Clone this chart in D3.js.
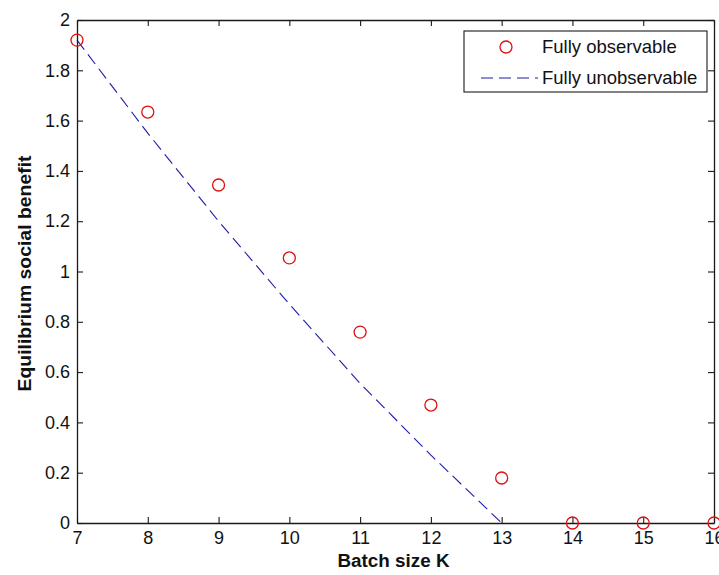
<!DOCTYPE html>
<html>
<head>
<meta charset="utf-8">
<script src="https://cdn.jsdelivr.net/npm/d3@7"></script>
<style>
  html, body { margin: 0; padding: 0; background: #ffffff; }
  svg { display: block; }
  text { font-family: "Liberation Sans", Arial, Helvetica, sans-serif; }
</style>
</head>
<body>
<svg id="chart" width="719" height="575"></svg>
<script>
// ---- data ----
const batchSizes = [7, 8, 9, 10, 11, 12, 13, 14, 15, 16];
const fullyObservable = [1.92, 1.634, 1.344, 1.054, 0.759, 0.469, 0.179, 0, 0, 0];
const unobservableK = [7, 8, 9, 10, 11, 12, 13];
const fullyUnobservable = [1.92, 1.55, 1.20, 0.87, 0.555, 0.27, 0];
const xTickValues = [7, 8, 9, 10, 11, 12, 13, 14, 15, 16];
const yTickValues = [0, 0.2, 0.4, 0.6, 0.8, 1, 1.2, 1.4, 1.6, 1.8, 2];
const yTickLabels = ["0", "0.2", "0.4", "0.6", "0.8", "1", "1.2", "1.4", "1.6", "1.8", "2"];
const seriesNames = ["Fully observable", "Fully unobservable"];
const xLabel = "Batch size K";
const yLabel = "Equilibrium social benefit";

// ---- layout ----
const W = 719, H = 575;
const margin = { top: 20, right: 5, bottom: 52, left: 77 };
const iw = W - margin.left - margin.right;
const ih = H - margin.top - margin.bottom;

const svg = d3.select("#chart");
svg.append("rect").attr("width", W).attr("height", H).attr("fill", "#ffffff");
const g = svg.append("g").attr("transform", `translate(${margin.left},${margin.top})`);

const x = d3.scaleLinear().domain([7, 16]).range([0, iw]);
const y = d3.scaleLinear().domain([0, 2]).range([ih, 0]);

const axisColor = "#1a1a1a";
const tickFont = 18;

// plot background
g.append("rect").attr("width", iw).attr("height", ih).attr("fill", "#ffffff");

// ---- series: dashed line ----
const lineData = unobservableK.map((k, i) => [k, fullyUnobservable[i]]);
const line = d3.line().x(d => x(d[0])).y(d => y(d[1]));
const lineColor = "#1c1ca8";
const markerColor = "#dd1111";
const dash = "12,6";

g.append("path")
  .datum(lineData)
  .attr("fill", "none")
  .attr("stroke", lineColor)
  .attr("stroke-width", 1.1)
  .attr("stroke-dasharray", dash)
  .attr("d", line);

// ---- axes ----
function styleAxis(sel) {
  sel.selectAll("path.domain").attr("stroke", axisColor).attr("stroke-width", 1.3);
  sel.selectAll(".tick line").attr("stroke", axisColor).attr("stroke-width", 1.1);
  sel.selectAll(".tick text").attr("fill", "#111").attr("font-size", tickFont)
    .attr("font-family", '"Liberation Sans", Arial, sans-serif');
}

const xAxis = d3.axisBottom(x).tickValues(xTickValues).tickFormat(d3.format("d"))
  .tickSizeInner(-6).tickSizeOuter(0).tickPadding(8);
g.append("g").attr("transform", `translate(0,${ih})`).call(xAxis).call(styleAxis);

const yAxis = d3.axisLeft(y).tickValues(yTickValues)
  .tickFormat((d, i) => yTickLabels[i])
  .tickSizeInner(-6).tickSizeOuter(0).tickPadding(7);
g.append("g").call(yAxis).call(styleAxis);

const xTop = d3.axisTop(x).tickValues(xTickValues).tickFormat("")
  .tickSizeInner(-6).tickSizeOuter(0);
g.append("g").call(xTop).call(styleAxis);

const yRight = d3.axisRight(y).tickValues(yTickValues).tickFormat("")
  .tickSizeInner(-6).tickSizeOuter(0);
g.append("g").attr("transform", `translate(${iw},0)`).call(yRight).call(styleAxis);

// ---- series: circle markers ----
g.selectAll("circle.obs")
  .data(batchSizes.map((k, i) => [k, fullyObservable[i]]))
  .join("circle")
  .attr("class", "obs")
  .attr("cx", d => x(d[0]))
  .attr("cy", d => y(d[1]))
  .attr("r", 6)
  .attr("fill", "none")
  .attr("stroke", markerColor)
  .attr("stroke-width", 1.3);

// ---- axis labels ----
svg.append("text")
  .attr("x", margin.left + iw / 2 - 2)
  .attr("y", 567)
  .attr("text-anchor", "middle")
  .attr("font-size", 18)
  .attr("font-weight", "bold")
  .attr("fill", "#111")
  .attr("textLength", 112)
  .attr("lengthAdjust", "spacingAndGlyphs")
  .text(xLabel);

svg.append("text")
  .attr("transform", `translate(${31},${margin.top + ih / 2 + 2}) rotate(-90)`)
  .attr("text-anchor", "middle")
  .attr("font-size", 18)
  .attr("font-weight", "bold")
  .attr("fill", "#111")
  .attr("textLength", 236)
  .attr("lengthAdjust", "spacingAndGlyphs")
  .text(yLabel);

// ---- legend ----
const legend = svg.append("g").attr("transform", "translate(464,31)");
legend.append("rect")
  .attr("width", 243).attr("height", 61)
  .attr("fill", "#ffffff").attr("stroke", axisColor).attr("stroke-width", 1.1);

const rows = [16, 47];
legend.append("circle")
  .attr("cx", 42).attr("cy", rows[0]).attr("r", 6)
  .attr("fill", "none").attr("stroke", markerColor).attr("stroke-width", 1.3);
legend.append("line")
  .attr("x1", 17).attr("x2", 74).attr("y1", rows[1]).attr("y2", rows[1])
  .attr("stroke", lineColor).attr("stroke-width", 1.1).attr("stroke-dasharray", dash);

seriesNames.forEach((name, i) => {
  legend.append("text")
    .attr("x", 78).attr("y", rows[i])
    .attr("dy", "0.35em")
    .attr("font-size", 18.5)
    .attr("fill", "#111")
    .text(name);
});
</script>
</body>
</html>
